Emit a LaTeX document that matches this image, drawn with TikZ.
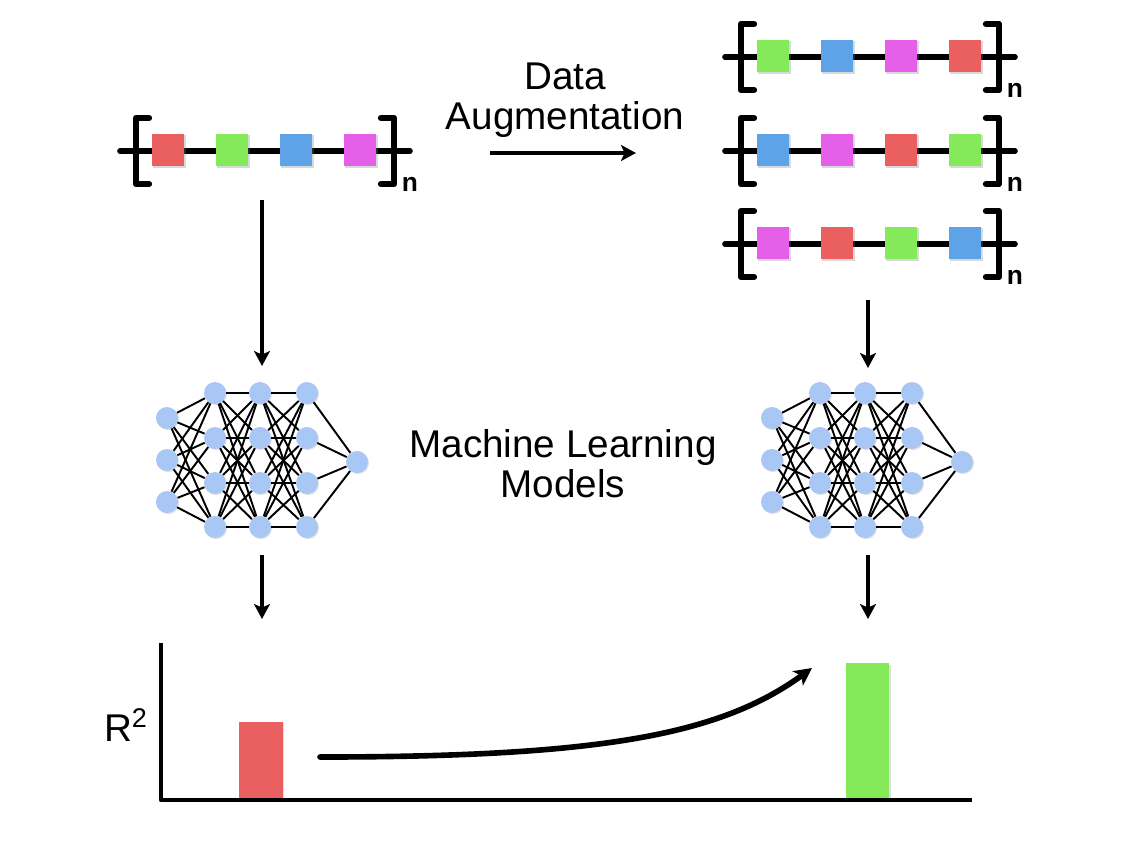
\documentclass[tikz,border=0pt]{standalone}
\usepackage{fontspec}
\setmainfont{Liberation Sans}
\usepackage{tikz}
\usetikzlibrary{arrows.meta, shadows}

\definecolor{monoRed}{HTML}{EA6060}
\definecolor{monoGreen}{HTML}{84EA5A}
\definecolor{monoBlue}{HTML}{5EA3E8}
\definecolor{monoPink}{HTML}{E55FE8}
\definecolor{neuronBlue}{HTML}{A9C7F5}

\tikzset{
    backbone/.style={line width=3.2pt, line cap=round},
    bracket/.style={line width=3.6pt, line cap=round, line join=round},
    monomer/.style={draw=none, minimum size=18.7pt, inner sep=0pt,
        drop shadow={shadow xshift=0.8pt, shadow yshift=-0.8pt, opacity=0.3}},
    repeatlabel/.style={font=\bfseries\fontsize{15}{15}\selectfont, inner sep=0pt},
    neuron/.style={circle, fill=neuronBlue, minimum size=12.5pt, inner sep=0pt,
        drop shadow={shadow xshift=0.6pt, shadow yshift=-0.6pt, opacity=0.25}},
    synapse/.style={line width=1.1pt},
    flow/.style={line width=2.4pt, -{Stealth[length=8.5pt, width=9pt, inset=2pt]}},
    caption/.style={font=\fontsize{22}{22.7}\selectfont, align=center, inner sep=0pt},
    axis/.style={line width=2.6pt, line join=round},
    bar/.style={draw=none, inner sep=0pt, anchor=south, minimum width=25pt,
        drop shadow={shadow xshift=0.8pt, shadow yshift=-0.8pt, opacity=0.25}}
}

% #1 name, #2 x of first monomer, #3 y, #4-#7 colours
\newcommand{\polymerchain}[7]{
    \draw[backbone] (#2-48,#3) -- (#2+242,#3);
    \draw[bracket] (#2-19,#3-33) -- (#2-32,#3-33) -- (#2-32,#3+33) -- (#2-19,#3+33);
    \draw[bracket] (#2+213,#3-33) -- (#2+226,#3-33) -- (#2+226,#3+33) -- (#2+213,#3+33);
    \node[monomer, fill=#4] (#1-1) at (#2,#3-1) {};
    \node[monomer, fill=#5] (#1-2) at (#2+64,#3-1) {};
    \node[monomer, fill=#6] (#1-3) at (#2+128,#3-1) {};
    \node[monomer, fill=#7] (#1-4) at (#2+192,#3-1) {};
    \node[repeatlabel] (#1-n) at (#2+242,#3+33) {n};
}

% #1 name, #2 x shift
\newcommand{\mlnet}[2]{
    \foreach \i/\y in {1/418,2/460,3/502}
        \node[neuron] (#1-a\i) at (#2+167,\y) {};
    \foreach \i/\y in {1/393,2/438,3/483,4/527} {
        \node[neuron] (#1-b\i) at (#2+215,\y) {};
        \node[neuron] (#1-c\i) at (#2+260,\y) {};
        \node[neuron] (#1-d\i) at (#2+307,\y) {};
    }
    \node[neuron] (#1-e) at (#2+357,462) {};
    \foreach \i in {1,2,3}
        \foreach \j in {1,...,4}
            \draw[synapse] (#1-a\i) -- (#1-b\j);
    \foreach \i in {1,...,4} {
        \foreach \j in {1,...,4} {
            \draw[synapse] (#1-b\i) -- (#1-c\j);
            \draw[synapse] (#1-c\i) -- (#1-d\j);
        }
        \draw[synapse] (#1-d\i) -- (#1-e);
    }
}

\begin{document}
\begin{tikzpicture}[x=0.02cm, y=-0.02cm]
    \useasboundingbox (0,0) rectangle (1146,860);

    % chains
    \polymerchain{orig}{168}{151}{monoRed}{monoGreen}{monoBlue}{monoPink}
    \polymerchain{augA}{773}{57}{monoGreen}{monoBlue}{monoPink}{monoRed}
    \polymerchain{augB}{773}{151}{monoBlue}{monoPink}{monoRed}{monoGreen}
    \polymerchain{augC}{773}{244}{monoPink}{monoRed}{monoGreen}{monoBlue}

    \node[caption] (augtext) at (565,100) {Data\\Augmentation};
    \coordinate (augstart) at (490,153);
    \coordinate (augend) at (636,153);
    \draw[flow] (augstart) -- (augend);

    % models
    \mlnet{netL}{0}
    \mlnet{netR}{605}
    \node[caption] (mltext) at (563,464) {Machine Learning\\Models};

    \coordinate (l1) at (262,200);
    \coordinate (l2) at (262,366);
    \coordinate (l3) at (262,555);
    \coordinate (l4) at (262,619);
    \coordinate (r1) at (868,300);
    \coordinate (r2) at (868,368);
    \coordinate (r3) at (868,555);
    \coordinate (r4) at (868,619);
    \draw[flow] (l1) -- (l2);
    \draw[flow] (l3) -- (l4);
    \draw[flow] (r1) -- (r2);
    \draw[flow] (r3) -- (r4);

    % chart
    \node[bar, fill=monoRed, minimum height=44.2pt] (before) at (261,800) {};
    \node[bar, fill=monoGreen, minimum height=77.7pt] (after) at (867.5,800) {};
    \coordinate (ytop) at (161,643);
    \coordinate (origin) at (161,800);
    \coordinate (xend) at (972,800);
    \draw[axis] (ytop) -- (origin) -- (xend);
    \node[caption] (rsq) at (126,725) {R\textsuperscript{2}};

    \coordinate (gainstart) at (320,757);
    \coordinate (gainend) at (812,668);
    \draw[line width=3.2pt, line cap=round, -{Stealth[length=10pt, width=10pt, inset=2.5pt]}]
        (gainstart) .. controls (600,757) and (720,735) .. (gainend);
\end{tikzpicture}
\end{document}
